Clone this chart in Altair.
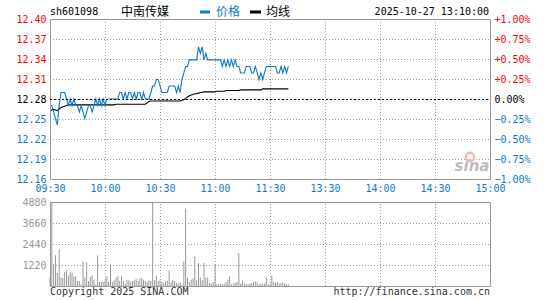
import altair as alt
import pandas as pd

# ---------------- data ----------------
stock_code = "sh601098"
stock_name = "中南传媒"
legend_price = "价格"
legend_avg = "均线"
timestamp = "2025-10-27 13:10:00"
copyright_text = "Copyright 2025 SINA.COM"
url_text = "http://finance.sina.com.cn"
watermark = "sina"

time_ticks = [0, 30, 60, 90, 120, 150, 180, 210, 240]
time_labels = ["09:30", "10:00", "10:30", "11:00", "11:30", "13:30", "14:00", "14:30", "15:00"]
prev_close = 12.28
price_ticks = [12.1572, 12.1879, 12.2186, 12.2493, 12.28, 12.3107, 12.3414, 12.3721, 12.4028]
pct_ticks = [-1.0, -0.75, -0.5, -0.25, 0.0, 0.25, 0.5, 0.75, 1.0]
vol_ticks = [1220, 2440, 3660, 4880]
vol_max = 4880

minute = list(range(131))
price = [
    12.27, 12.27, 12.26, 12.25, 12.24, 12.27, 12.29, 12.29, 12.29, 12.28,
    12.27, 12.28, 12.27, 12.28, 12.27, 12.27, 12.26, 12.27, 12.26, 12.25,
    12.26, 12.27, 12.27, 12.26, 12.27, 12.28, 12.27, 12.28, 12.27, 12.28,
    12.27, 12.28, 12.28, 12.28, 12.28, 12.28, 12.28, 12.28, 12.29, 12.29,
    12.28, 12.29, 12.28, 12.29, 12.29, 12.28, 12.29, 12.28, 12.29, 12.29,
    12.28, 12.29, 12.28, 12.28, 12.28, 12.29, 12.30, 12.30, 12.31, 12.31,
    12.30, 12.29, 12.29, 12.29, 12.29, 12.30, 12.30, 12.30, 12.30, 12.29,
    12.30, 12.29, 12.31, 12.32, 12.33, 12.33, 12.34, 12.34, 12.34, 12.34,
    12.34, 12.36, 12.35, 12.36, 12.34, 12.35, 12.34, 12.34, 12.34, 12.34,
    12.34, 12.34, 12.34, 12.34, 12.33, 12.34, 12.33, 12.34, 12.33, 12.34,
    12.33, 12.34, 12.33, 12.33, 12.32, 12.32, 12.32, 12.33, 12.33, 12.33,
    12.32, 12.32, 12.33, 12.32, 12.31, 12.32, 12.31, 12.32, 12.33, 12.33,
    12.33, 12.33, 12.33, 12.33, 12.32, 12.32, 12.33, 12.32, 12.33, 12.32,
    12.33,
]
avg_price = [
    12.262, 12.263, 12.264, 12.263, 12.262, 12.265, 12.267, 12.268, 12.269, 12.270,
    12.271, 12.271, 12.271, 12.271, 12.271, 12.271, 12.271, 12.271, 12.271, 12.271,
    12.271, 12.271, 12.271, 12.271, 12.271, 12.271, 12.271, 12.271, 12.271, 12.271,
    12.271, 12.271, 12.271, 12.271, 12.271, 12.271, 12.272, 12.272, 12.272, 12.272,
    12.272, 12.272, 12.272, 12.272, 12.272, 12.272, 12.272, 12.272, 12.272, 12.272,
    12.272, 12.272, 12.272, 12.274, 12.276, 12.277, 12.277, 12.277, 12.277, 12.277,
    12.277, 12.277, 12.277, 12.277, 12.277, 12.277, 12.277, 12.277, 12.277, 12.277,
    12.277, 12.277, 12.278, 12.279, 12.281, 12.283, 12.285, 12.286, 12.287, 12.288,
    12.288, 12.289, 12.290, 12.290, 12.291, 12.291, 12.291, 12.291, 12.291, 12.291,
    12.291, 12.292, 12.292, 12.292, 12.292, 12.292, 12.293, 12.293, 12.293, 12.293,
    12.293, 12.293, 12.293, 12.293, 12.294, 12.294, 12.294, 12.294, 12.294, 12.294,
    12.294, 12.294, 12.294, 12.294, 12.294, 12.294, 12.2955, 12.2955, 12.2955, 12.2955,
    12.2955, 12.2955, 12.2955, 12.2955, 12.2955, 12.2955, 12.2955, 12.2955, 12.2955, 12.2955,
    12.2955,
]
volume = [
    484, 4880, 1259, 1782, 755, 2131, 484, 465, 814, 910,
    620, 814, 755, 562, 562, 290, 290, 100, 1433, 484,
    1375, 290, 523, 620, 368, 80, 1782, 232, 232, 232,
    329, 562, 232, 1259, 232, 329, 484, 562, 290, 562,
    290, 136, 329, 329, 232, 290, 329, 426, 290, 426,
    484, 368, 290, 232, 329, 290, 4850, 329, 620, 290,
    329, 232, 174, 232, 290, 910, 232, 368, 290, 174,
    136, 232, 60, 1433, 4494, 484, 232, 368, 426, 1724,
    329, 1336, 484, 329, 1336, 484, 484, 174, 136, 232,
    1259, 97, 97, 136, 97, 136, 232, 368, 562, 97,
    136, 174, 232, 1918, 136, 329, 136, 97, 97, 136,
    174, 213, 271, 232, 97, 136, 97, 136, 484, 97,
    97, 620, 232, 174, 232, 136, 174, 232, 136, 97,
    80,
]

# ---------------- styling ----------------
MONO = "DejaVu Sans Mono"
CJK = "Noto Sans CJK SC"
BLUE = "#0a7acc"
RED = "#ff0000"
FRAME = "#999999"
GRID = "#a0a0a0"
VOLC = "#999999"
DOTS = [1, 2]

W, H = 440, 267
PRICE_H = 160
VOL_TOP, VOL_BOT = 183, 267

price_lo, price_hi = price_ticks[0], price_ticks[-1]
df = pd.DataFrame({"m": minute, "price": price, "avg": avg_price, "vol": volume})
one_df = pd.DataFrame({"f": [0]})

xs = alt.Scale(domain=[time_ticks[0], time_ticks[-1]], nice=False, zero=False)
ps = alt.Scale(domain=[price_lo, price_hi], range=[PRICE_H, 0], nice=False, zero=False)
pcts = alt.Scale(domain=[pct_ticks[0], pct_ticks[-1]], range=[PRICE_H, 0], nice=False, zero=False)
vs = alt.Scale(domain=[0, vol_max], range=[VOL_BOT, VOL_TOP], nice=False, zero=False)

lab_arr = "[" + ",".join("'%s'" % t for t in time_labels) + "]"
tick_arr = "[" + ",".join(str(t) for t in time_ticks) + "]"
x_axis = alt.Axis(
    orient="bottom", offset=-(H - PRICE_H), values=time_ticks,
    labelExpr=f"{lab_arr}[indexof({tick_arr}, datum.value)]",
    grid=False, domain=False, ticks=False, tickSize=0, labelColor=BLUE,
    labelFont=MONO, labelFontSize=10, labelPadding=4, labelFlush=False,
    labelOverlap=False, title=None,
)
hi_t = f"datum.value > {prev_close + 0.0001}"
lo_t = f"datum.value < {prev_close - 0.0001}"
price_axis = alt.Axis(
    orient="left", values=price_ticks, format=".2f", grid=False,
    domain=False, ticks=False, tickSize=0, labelFont=MONO,
    labelFontSize=10, labelPadding=4, labelBaseline="middle", title=None,
    labelOverlap=False,
    labelColor={"condition": [{"test": hi_t, "value": RED}, {"test": lo_t, "value": BLUE}],
                "value": "#000000"},
)
pct_axis = alt.Axis(
    orient="right", values=pct_ticks, grid=False, domain=False, ticks=False, tickSize=0,
    labelExpr="(datum.value > 0 ? '+' : '') + format(datum.value, '.2f') + '%'",
    labelFont=MONO, labelFontSize=10, labelPadding=4, labelBaseline="middle",
    title=None, labelOverlap=False,
    labelColor={"condition": [{"test": "datum.value > 0.001", "value": RED},
                              {"test": "datum.value < -0.001", "value": BLUE}],
                "value": "#000000"},
)
vol_axis = alt.Axis(
    orient="left", values=vol_ticks, format="d", grid=False,
    domain=False, ticks=False, tickSize=0, labelFont=MONO,
    labelFontSize=10, labelPadding=4, labelBaseline="middle", labelColor="#999999",
    title=None, labelOverlap=False,
)

base = alt.Chart(df)
one = alt.Chart(one_df)


def vrule(g, y_lo, y_hi, scale, axis):
    return one.mark_rule(color=GRID, strokeDash=DOTS, strokeWidth=1, xOffset=0.5).encode(
        x=alt.XDatum(g, scale=xs, axis=x_axis),
        y=alt.YDatum(y_lo, scale=scale, axis=axis),
        y2=alt.Y2Datum(y_hi),
    )


def hrule(v, scale, axis):
    return one.mark_rule(color=GRID, strokeDash=DOTS, strokeWidth=1, yOffset=0.5).encode(
        x=alt.XDatum(time_ticks[0], scale=xs, axis=x_axis),
        x2=alt.X2Datum(time_ticks[-1]),
        y=alt.YDatum(v, scale=scale, axis=axis),
    )


# ---- price panel ----
p_grid = [vrule(g, price_lo, price_hi, ps, price_axis) for g in time_ticks[1:-1]] + \
         [hrule(p, ps, price_axis) for p in price_ticks[1:-1]]
avg_line = base.mark_line(color="#000000", strokeWidth=1.1).encode(
    x=alt.X("m:Q", scale=xs, axis=x_axis),
    y=alt.Y("avg:Q", scale=ps, axis=price_axis),
)
price_line = base.mark_line(color=BLUE, strokeWidth=1.1).encode(
    x=alt.X("m:Q", scale=xs, axis=x_axis),
    y=alt.Y("price:Q", scale=ps, axis=price_axis),
)
p_frame = one.mark_rect(
    fillOpacity=0, stroke=FRAME, strokeWidth=1,
    xOffset=0.5, x2Offset=0.5, yOffset=0.5, y2Offset=0.5,
).encode(
    x=alt.XDatum(time_ticks[0], scale=xs, axis=x_axis), x2=alt.X2Datum(time_ticks[-1]),
    y=alt.YDatum(price_lo, scale=ps, axis=price_axis), y2=alt.Y2Datum(price_hi),
)
price_panel = alt.layer(*p_grid, avg_line, price_line, p_frame)

# ---- percent axis + zero line ----
zero_line = one.mark_rule(
    color="#000000", strokeDash=[2, 2], strokeWidth=1, yOffset=0.5
).encode(
    x=alt.XDatum(time_ticks[0], scale=xs, axis=x_axis), x2=alt.X2Datum(time_ticks[-1]),
    y=alt.YDatum(0, scale=pcts, axis=pct_axis),
)
pct_panel = alt.layer(zero_line)

# ---- volume panel ----
v_grid = [vrule(g, 0, vol_max, vs, vol_axis) for g in time_ticks[1:-1]] + \
         [hrule(v, vs, vol_axis) for v in vol_ticks[:-1]]
v_bars = base.mark_rule(color=VOLC, strokeWidth=1).encode(
    x=alt.X("m:Q", scale=xs, axis=x_axis),
    y=alt.Y("vol:Q", scale=vs, axis=vol_axis),
    y2=alt.Y2Datum(0),
)
v_frame = one.mark_rect(
    fillOpacity=0, stroke=FRAME, strokeWidth=1,
    xOffset=0.5, x2Offset=0.5, yOffset=0.5, y2Offset=0.5,
).encode(
    x=alt.XDatum(time_ticks[0], scale=xs, axis=x_axis), x2=alt.X2Datum(time_ticks[-1]),
    y=alt.YDatum(0, scale=vs, axis=vol_axis), y2=alt.Y2Datum(vol_max),
)
vol_panel = alt.layer(*v_grid, v_bars, v_frame)


# ---- texts ----
def txt(s, x, y, color="#000000", font=MONO, size=10, align="left", **kw):
    return alt.Chart(pd.DataFrame({"t": [s]})).mark_text(
        align=align, baseline="middle", font=font, fontSize=size, color=color, **kw
    ).encode(x=alt.value(x), y=alt.value(y), text="t:N")


def dash(x1, x2, y, color):
    return one.mark_rule(color=color, strokeWidth=3).encode(
        x=alt.value(x1), x2=alt.value(x2), y=alt.value(y))


eye = one.mark_point(
    shape="circle", size=70, filled=False, stroke="#f3b3b3", strokeWidth=2.5, opacity=0.9
).encode(x=alt.value(420), y=alt.value(138))

texts = [
    txt(stock_code, 0, -7),
    txt(stock_name, 71, -7, font=CJK, size=12),
    dash(150, 160, -7, BLUE),
    txt(legend_price, 166, -7, color=BLUE, font=CJK, size=12),
    dash(200, 211, -7, "#000000"),
    txt(legend_avg, 216, -7, font=CJK, size=12),
    txt(timestamp, 439, -7, align="right"),
    txt(copyright_text, 0, 273, color="#333333"),
    txt(url_text, 440, 273, color="#333333", align="right"),
    eye,
    txt(watermark, 422, 147, color="#bdbdbd", font="DejaVu Sans", size=15,
        align="center", fontStyle="italic", fontWeight="bold"),
]

chart = alt.layer(price_panel, pct_panel, vol_panel, *texts).resolve_scale(
    y="independent"
).properties(
    width=W, height=H,
    padding={"left": 50, "top": 19, "right": 55, "bottom": 14},
    autosize=alt.AutoSizeParams(type="none"),
    background="#ffffff",
).configure_view(stroke=None)

chart.save("out.html", embed_options={"renderer": "svg", "actions": False})
